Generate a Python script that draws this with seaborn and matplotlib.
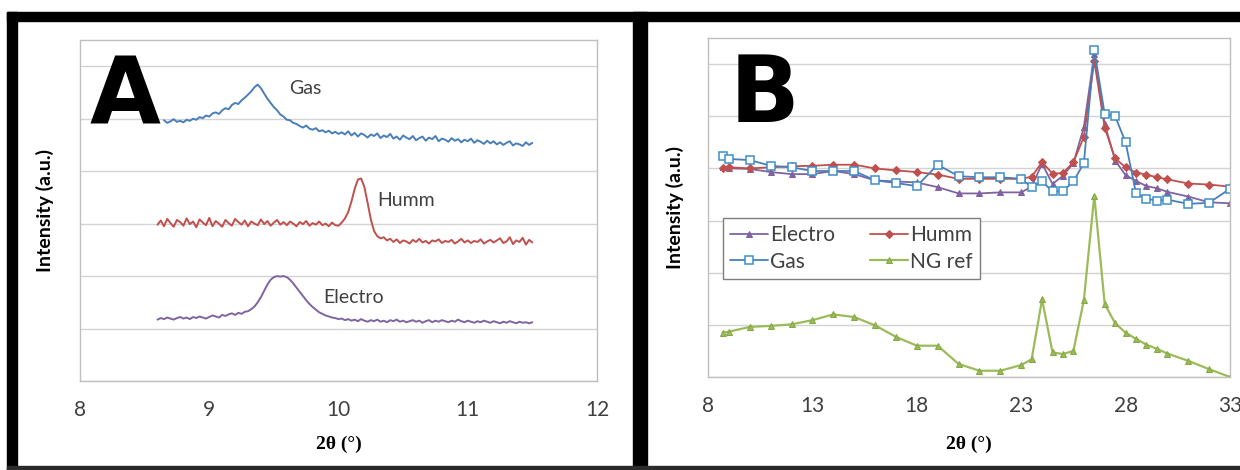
import numpy as np
import pandas as pd
import seaborn as sns
import matplotlib.pyplot as plt
from matplotlib.patches import Rectangle

# === Panel A: low-angle XRD scans (step 0.025 deg) ===
gas_a = [4.97, 4.92, 4.95, 4.99, 4.94, 4.96, 4.93, 4.98,
         4.96, 5.00, 4.98, 5.03, 5.01, 5.06, 5.04, 5.10,
         5.12, 5.09, 5.16, 5.20, 5.18, 5.26, 5.30, 5.28,
         5.35, 5.40, 5.46, 5.52, 5.60, 5.65, 5.58, 5.48,
         5.38, 5.30, 5.22, 5.16, 5.08, 5.04, 4.98, 4.97,
         4.92, 4.90, 4.86, 4.83, 4.87, 4.81, 4.79, 4.82,
         4.76, 4.78, 4.74, 4.77, 4.72, 4.75, 4.71, 4.74,
         4.70, 4.76, 4.68, 4.73, 4.66, 4.72, 4.69, 4.64,
         4.70, 4.67, 4.72, 4.63, 4.68, 4.65, 4.71, 4.62,
         4.66, 4.60, 4.68, 4.64, 4.61, 4.67, 4.59, 4.63,
         4.66, 4.58, 4.64, 4.61, 4.67, 4.57, 4.62, 4.60,
         4.56, 4.63, 4.58, 4.61, 4.55, 4.60, 4.57, 4.62,
         4.54, 4.59, 4.56, 4.52, 4.58, 4.53, 4.57, 4.51,
         4.55, 4.50, 4.54, 4.57, 4.49, 4.53, 4.51, 4.48, 4.55, 4.50, 4.54]
humm_a = [2.98, 3.06, 2.95, 3.09, 3.01, 2.94, 3.07, 3.03, 2.96, 3.10,
          2.99, 3.04, 2.93, 3.08, 3.02, 2.97, 3.11, 2.95, 3.05, 3.00,
          2.94, 3.07, 3.01, 2.96, 3.09, 3.03, 2.98, 3.06, 2.95, 3.04,
          3.00, 2.97, 3.08, 2.99, 3.05, 2.96, 3.02, 3.07, 2.98, 3.03,
          2.97, 3.04, 3.00, 2.95, 3.03, 2.99, 3.05, 2.96, 3.01, 2.98,
          3.04, 2.97, 3.00, 2.95, 3.02, 2.97,
          2.96, 3.02, 3.10, 3.22, 3.42, 3.66, 3.84, 3.86, 3.70, 3.40,
          3.08, 2.86, 2.76, 2.72,
          2.74, 2.68, 2.71, 2.65, 2.70, 2.63, 2.68, 2.66, 2.62, 2.69,
          2.65, 2.71, 2.64, 2.67, 2.62, 2.68, 2.66, 2.70, 2.63, 2.67,
          2.65, 2.69, 2.62, 2.66, 2.71, 2.64, 2.68, 2.63, 2.67, 2.65,
          2.70, 2.62, 2.66, 2.69, 2.64, 2.68, 2.72, 2.63, 2.66, 2.74,
          2.61, 2.68, 2.65, 2.73, 2.60, 2.69, 2.64]
electro_a = [1.17, 1.20, 1.18, 1.21, 1.19, 1.17, 1.20, 1.22, 1.19, 1.21,
             1.18, 1.22, 1.20, 1.23, 1.21, 1.19, 1.22, 1.25, 1.23, 1.21,
             1.26, 1.24, 1.27, 1.29, 1.26, 1.30, 1.28, 1.32,
             1.33, 1.37, 1.42, 1.50, 1.60, 1.72, 1.84, 1.93, 1.98, 2.00,
             1.99, 2.00, 1.98,
             1.93, 1.86, 1.78, 1.70, 1.62, 1.54, 1.47, 1.41, 1.36, 1.31,
             1.28, 1.25, 1.23, 1.21, 1.20, 1.18,
             1.19, 1.16, 1.18, 1.15, 1.17, 1.14, 1.18, 1.15, 1.13, 1.16,
             1.14, 1.17, 1.13, 1.15, 1.12, 1.16, 1.14, 1.17, 1.13, 1.15,
             1.12, 1.14, 1.16, 1.13, 1.15, 1.11, 1.14, 1.16, 1.12, 1.15,
             1.13, 1.16, 1.14, 1.12, 1.15, 1.13, 1.17, 1.14, 1.12, 1.15,
             1.13, 1.11, 1.14, 1.12, 1.15, 1.13, 1.11, 1.14, 1.12, 1.10,
             1.13, 1.11, 1.14, 1.12, 1.10, 1.13, 1.11, 1.12, 1.10, 1.12]
gas_a_x = np.linspace(8.65, 11.5, len(gas_a))
humm_a_x = np.linspace(8.6, 11.5, len(humm_a))
electro_a_x = np.linspace(8.6, 11.5, len(electro_a))

# === Panel B: wide-angle scans ===
two_theta_b = [8.7, 9, 10, 11, 12, 13, 14, 15, 16, 17, 18, 19, 20, 21, 22, 23,
               23.5, 24, 24.5, 25, 25.5, 26, 26.5, 27, 27.5, 28, 28.5, 29,
               29.5, 30, 31, 32, 33]
electro_b = [4.02, 4.00, 3.99, 3.93, 3.89, 3.89, 3.95, 3.89, 3.77, 3.75, 3.73,
             3.64, 3.52, 3.52, 3.54, 3.54, 3.65, 4.09, 3.70, 3.86, 4.10, 4.79,
             6.19, 4.85, 4.15, 3.87, 3.76, 3.66, 3.62, 3.55, 3.46, 3.35, 3.33]
humm_b = [4.00, 4.02, 4.00, 4.02, 4.04, 4.05, 4.07, 4.07, 4.00, 3.96, 3.93,
          3.88, 3.80, 3.80, 3.80, 3.80, 3.84, 4.12, 3.90, 3.91, 4.12, 4.60,
          6.06, 4.78, 4.19, 4.02, 3.92, 3.88, 3.83, 3.79, 3.71, 3.69, 3.65]
gas_b = [4.24, 4.18, 4.16, 4.05, 4.02, 3.95, 3.95, 3.95, 3.77, 3.72, 3.66,
         4.07, 3.85, 3.83, 3.83, 3.80, 3.64, 3.75, 3.56, 3.56, 3.75, 4.10,
         6.27, 5.04, 5.00, 4.50, 3.52, 3.42, 3.38, 3.40, 3.32, 3.34, 3.61]
ngref_b = [0.85, 0.87, 0.96, 0.98, 1.01, 1.09, 1.20, 1.15, 0.99, 0.77, 0.60,
           0.60, 0.25, 0.12, 0.12, 0.23, 0.34, 1.49, 0.47, 0.44, 0.50, 1.47,
           3.48, 1.40, 1.03, 0.85, 0.73, 0.62, 0.54, 0.45, 0.31, 0.15, 0.00]

xticks_a = [8, 9, 10, 11, 12]
xticks_b = [8, 13, 18, 23, 28, 33]

BLUE, RED, PURPLE, GREEN = '#4A7EBB', '#C0504D', '#8064A2', '#9BBB59'
GRID, SPINE, TXT = '#D3D3D3', '#BFBFBF', '#404040'

sns.set_theme(style="whitegrid")
plt.rcParams['font.family'] = ['Lato', 'DejaVu Sans']

fig = plt.figure(figsize=(12.4, 4.7), dpi=100)
fig.patch.set_facecolor('white')

# black frame around the two panels
for (x0, y0, w, h, c) in [(7, 12, 1233, 9, 'black'), (7, 12, 10, 458, 'black'),
                          (633, 12, 14, 458, 'black'), (7, 466, 1233, 4, '#2b2b2b')]:
    fig.patches.append(Rectangle((x0 / 1240, 1 - (y0 + h) / 470), w / 1240, h / 470,
                                 transform=fig.transFigure, color=c, zorder=0))

ax_a = fig.add_axes([80 / 1240, 1 - 381 / 470, 517 / 1240, 341 / 470])
ax_b = fig.add_axes([708 / 1240, 1 - 377 / 470, 522 / 1240, 339 / 470])


def style_axis(ax, xticks):
    ax.set_xlim(xticks[0], xticks[-1])
    ax.set_ylim(0, 6.5)
    ax.set_xticks(xticks)
    ax.set_yticks(range(0, 7))
    ax.set_yticklabels([])
    ax.grid(axis='x', visible=False)
    ax.grid(axis='y', color=GRID, linewidth=1)
    for s in ax.spines.values():
        s.set_color(SPINE)
        s.set_linewidth(1)
    ax.tick_params(axis='both', length=6, width=1, color=SPINE, direction='out')
    ax.tick_params(axis='x', labelsize=15, labelcolor=TXT, pad=8)
    ax.set_ylabel('Intensity (a.u.)', fontsize=14, fontweight='bold', color='black')
    ax.set_xlabel('2θ (°)', fontsize=14, fontweight='bold', color='black',
                  family=['Liberation Serif', 'DejaVu Serif'])


# --- panel A ---
sns.lineplot(x=gas_a_x, y=gas_a, color=BLUE, lw=1.4, ax=ax_a)
sns.lineplot(x=humm_a_x, y=humm_a, color=RED, lw=1.4, ax=ax_a)
sns.lineplot(x=electro_a_x, y=electro_a, color=PURPLE, lw=1.4, ax=ax_a)
style_axis(ax_a, xticks_a)
ax_a.yaxis.set_label_coords(-26 / 517, 0.5)
ax_a.xaxis.set_label_coords(0.5, -55 / 341)
ax_a.text(9.62, 5.58, 'Gas', fontsize=14, color=TXT, va='center')
ax_a.text(10.30, 3.45, 'Humm', fontsize=14, color=TXT, va='center')
ax_a.text(9.88, 1.60, 'Electro', fontsize=14, color=TXT, va='center')
ax_a.text(8.07, 4.91, 'A', fontsize=66, fontweight='bold', color='black',
          family=['DejaVu Sans'], va='baseline')

# --- panel B ---
sns.lineplot(x=two_theta_b, y=ngref_b, color=GREEN, lw=1.6, marker='^', ms=5,
             mec='#86A845', mfc=GREEN, label='NG ref', ax=ax_b)
sns.lineplot(x=two_theta_b, y=electro_b, color=PURPLE, lw=1.3, marker='^', ms=4.5,
             mec=PURPLE, mfc=PURPLE, label='Electro', ax=ax_b)
sns.lineplot(x=two_theta_b, y=humm_b, color=RED, lw=1.3, marker='D', ms=4,
             mec=RED, mfc=RED, label='Humm', ax=ax_b)
sns.lineplot(x=two_theta_b, y=gas_b, color=BLUE, lw=1.3, marker='s', ms=5.5,
             mec='#3F8FC8', mfc='white', mew=1.1, label='Gas', ax=ax_b)
style_axis(ax_b, xticks_b)
ax_b.yaxis.set_label_coords(-24 / 522, 0.5)
ax_b.xaxis.set_label_coords(0.5, -59 / 339)
ax_b.text(9.05, 4.88, 'B', fontsize=66, fontweight='bold', color='black',
          family=['DejaVu Sans'], va='baseline')

handles, labels = ax_b.get_legend_handles_labels()
order = [labels.index(n) for n in ['Electro', 'Gas', 'Humm', 'NG ref']]
leg = ax_b.legend([handles[i] for i in order], [labels[i] for i in order],
                  ncol=2, loc='upper left', bbox_to_anchor=(0.029, 0.469),
                  borderaxespad=0, fontsize=15, handlelength=1.8, handletextpad=0.1,
                  columnspacing=1.7, labelspacing=0.3, borderpad=0.35,
                  fancybox=False, framealpha=1, edgecolor='#7F7F7F')
leg.get_frame().set_linewidth(1)
for t in leg.get_texts():
    t.set_color(TXT)

fig.savefig('out.png', dpi=100, facecolor='white')
